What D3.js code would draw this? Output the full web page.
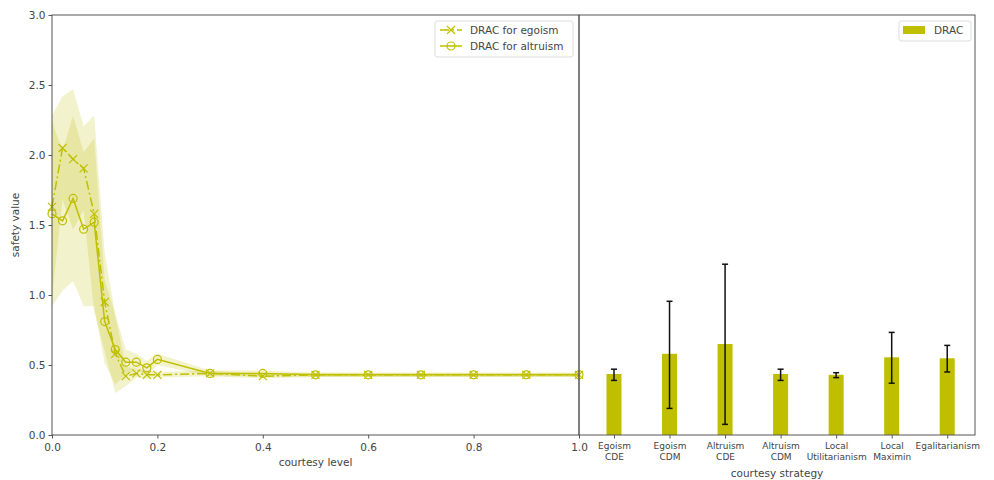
<!DOCTYPE html>
<html>
<head>
<meta charset="utf-8">
<script src="https://cdn.jsdelivr.net/npm/d3@7"></script>
<style>
  body { margin: 0; background: #fff; }
  text { font-family: "DejaVu Sans", sans-serif; }
</style>
</head>
<body>
<div id="viz"></div>
<script>
const olive = '#bfbf00';

// left panel: courtesy level vs safety value
const levels = [0, 0.02, 0.04, 0.06, 0.08, 0.10, 0.12, 0.14, 0.16, 0.18, 0.2, 0.3, 0.4, 0.5, 0.6, 0.7, 0.8, 0.9, 1.0];
const egoMean = [1.63, 2.05, 1.97, 1.905, 1.58, 0.95, 0.58, 0.42, 0.44, 0.43, 0.43, 0.44, 0.42, 0.43, 0.43, 0.43, 0.43, 0.43, 0.43];
const egoStd  = [0.65, 0.37, 0.50, 0.30, 0.70, 0.35, 0.28, 0.07, 0.03, 0.03, 0.02, 0.02, 0.015, 0.015, 0.015, 0.015, 0.015, 0.015, 0.015];
const altMean = [1.58, 1.53, 1.69, 1.47, 1.52, 0.81, 0.61, 0.52, 0.52, 0.48, 0.54, 0.44, 0.44, 0.43, 0.43, 0.43, 0.43, 0.43, 0.43];
const altStd  = [0.66, 0.50, 0.59, 0.55, 0.60, 0.30, 0.25, 0.09, 0.06, 0.05, 0.04, 0.02, 0.02, 0.015, 0.015, 0.015, 0.015, 0.015, 0.015];
const levelTicks = [0, 0.2, 0.4, 0.6, 0.8, 1.0];
const valueTicks = [0, 0.5, 1.0, 1.5, 2.0, 2.5, 3.0];

// right panel: strategies
const strategies = [['Egoism', 'CDE'], ['Egoism', 'CDM'], ['Altruism', 'CDE'], ['Altruism', 'CDM'],
                    ['Local', 'Utilitarianism'], ['Local', 'Maximin'], ['Egalitarianism']];
const dracMean = [0.436, 0.58, 0.65, 0.436, 0.43, 0.555, 0.548];
const dracLow  = [0.39, 0.19, 0.076, 0.39, 0.41, 0.37, 0.45];
const dracHigh = [0.47, 0.955, 1.22, 0.47, 0.445, 0.733, 0.64];

const W = 994, H = 480;
const yTop = 15, yBot = 435;
const leftL = 52, leftR = 579, rightR = 975;

const svg = d3.select('#viz').append('svg')
    .attr('width', W).attr('height', H);

const x = d3.scaleLinear().domain([0, 1]).range([leftL, leftR]);
const y = d3.scaleLinear().domain([0, 3]).range([yBot, yTop]);
const xb = d3.scaleLinear().domain([-0.63, 6.5]).range([leftR, rightR]);

// bands
const band = (mean, std) => d3.area()
    .x((d, i) => x(levels[i]))
    .y0((d, i) => y(mean[i] - std[i]))
    .y1((d, i) => y(mean[i] + std[i]));

svg.append('path')
    .attr('d', band(egoMean, egoStd)(levels))
    .attr('fill', olive).attr('fill-opacity', 0.2);
svg.append('path')
    .attr('d', band(altMean, altStd)(levels))
    .attr('fill', olive).attr('fill-opacity', 0.2);

const line = mean => d3.line().x((d, i) => x(levels[i])).y((d, i) => y(mean[i]));

svg.append('path')
    .attr('d', line(egoMean)(levels))
    .attr('fill', 'none').attr('stroke', olive).attr('stroke-width', 1.5)
    .attr('stroke-dasharray', '9,3,2,3');
svg.append('path')
    .attr('d', line(altMean)(levels))
    .attr('fill', 'none').attr('stroke', olive).attr('stroke-width', 1.5);

const xMark = (g, cx, cy) => {
  g.append('path')
    .attr('d', `M${cx - 4},${cy - 4}L${cx + 4},${cy + 4}M${cx - 4},${cy + 4}L${cx + 4},${cy - 4}`)
    .attr('stroke', olive).attr('stroke-width', 1.2).attr('fill', 'none');
};
const oMark = (g, cx, cy) => {
  g.append('circle').attr('cx', cx).attr('cy', cy).attr('r', 4)
    .attr('stroke', olive).attr('stroke-width', 1.2).attr('fill', 'none');
};

const marks = svg.append('g');
levels.forEach((l, i) => xMark(marks, x(l), y(egoMean[i])));
levels.forEach((l, i) => oMark(marks, x(l), y(altMean[i])));

// bars
svg.append('g').selectAll('rect').data(dracMean).join('rect')
    .attr('x', (d, i) => xb(i) - 7.5)
    .attr('width', 15)
    .attr('y', d => y(d))
    .attr('height', d => y(0) - y(d))
    .attr('fill', olive);

const err = svg.append('g').attr('stroke', '#111').attr('stroke-width', 1.5);
dracMean.forEach((d, i) => {
  const cx = xb(i);
  err.append('line').attr('x1', cx).attr('x2', cx).attr('y1', y(dracLow[i])).attr('y2', y(dracHigh[i]));
  err.append('line').attr('x1', cx - 3).attr('x2', cx + 3).attr('y1', y(dracLow[i])).attr('y2', y(dracLow[i]));
  err.append('line').attr('x1', cx - 3).attr('x2', cx + 3).attr('y1', y(dracHigh[i])).attr('y2', y(dracHigh[i]));
});

// axes
const axisColor = '#555';
const textColor = '#444';
const gx = svg.append('g').attr('transform', `translate(0,${yBot})`)
    .call(d3.axisBottom(x).tickValues(levelTicks).tickFormat(d3.format('.1f')).tickSizeOuter(0).tickSize(3.5));
const gy = svg.append('g').attr('transform', `translate(${leftL},0)`)
    .call(d3.axisLeft(y).tickValues(valueTicks).tickFormat(d3.format('.1f')).tickSizeOuter(0).tickSize(3.5));
const gxb = svg.append('g').attr('transform', `translate(0,${yBot})`)
    .call(d3.axisBottom(xb).tickValues(d3.range(strategies.length)).tickFormat('').tickSizeOuter(0).tickSize(3.5));

[gx, gy, gxb].forEach(g => {
  g.select('.domain').remove();
  g.selectAll('line').attr('stroke', axisColor);
  g.selectAll('text').attr('fill', textColor).attr('font-size', 10.5);
});
gx.selectAll('text').attr('dy', '0.9em');

gxb.selectAll('.tick').each(function (d) {
  const t = d3.select(this).append('text')
      .attr('text-anchor', 'middle').attr('fill', textColor)
      .attr('font-size', 9).attr('font-family', '"DejaVu Sans Condensed", "DejaVu Sans", sans-serif')
      .attr('y', 14);
  strategies[d].forEach((s, k) => {
    t.append('tspan').attr('x', 0).attr('dy', k === 0 ? 0 : 11).text(s);
  });
});

// frames
svg.append('rect').attr('x', leftL).attr('y', yTop).attr('width', leftR - leftL).attr('height', yBot - yTop)
    .attr('fill', 'none').attr('stroke', axisColor).attr('stroke-width', 1);
svg.append('rect').attr('x', leftR).attr('y', yTop).attr('width', rightR - leftR).attr('height', yBot - yTop)
    .attr('fill', 'none').attr('stroke', axisColor).attr('stroke-width', 1);

// axis labels
svg.append('text').attr('x', (leftL + leftR) / 2).attr('y', 466)
    .attr('text-anchor', 'middle').attr('font-size', 10.5).attr('fill', textColor).text('courtesy level');
svg.append('text').attr('x', (leftR + rightR) / 2).attr('y', 477)
    .attr('text-anchor', 'middle').attr('font-size', 10.5).attr('fill', textColor).text('courtesy strategy');
svg.append('text').attr('transform', `translate(19,${(yTop + yBot) / 2}) rotate(-90)`)
    .attr('text-anchor', 'middle').attr('font-size', 10.5).attr('fill', textColor).text('safety value');

// left legend
const lg = svg.append('g');
lg.append('rect').attr('x', 435).attr('y', 21).attr('width', 138).attr('height', 36).attr('rx', 2)
    .attr('fill', '#fff').attr('fill-opacity', 0.8).attr('stroke', '#ddd');
lg.append('line').attr('x1', 440).attr('x2', 462).attr('y1', 30).attr('y2', 30)
    .attr('stroke', olive).attr('stroke-width', 1.5).attr('stroke-dasharray', '9,3,2,3');
xMark(lg, 451, 30);
lg.append('line').attr('x1', 440).attr('x2', 462).attr('y1', 46).attr('y2', 46)
    .attr('stroke', olive).attr('stroke-width', 1.5);
oMark(lg, 451, 46);
lg.append('text').attr('x', 470).attr('y', 34).attr('font-size', 10.5).attr('fill', textColor).text('DRAC for egoism');
lg.append('text').attr('x', 470).attr('y', 50).attr('font-size', 10.5).attr('fill', textColor).text('DRAC for altruism');

// right legend
const rg = svg.append('g');
rg.append('rect').attr('x', 899).attr('y', 21).attr('width', 72).attr('height', 20).attr('rx', 2)
    .attr('fill', '#fff').attr('fill-opacity', 0.8).attr('stroke', '#ddd');
rg.append('rect').attr('x', 903).attr('y', 26).attr('width', 22).attr('height', 8).attr('fill', olive);
rg.append('text').attr('x', 934).attr('y', 34).attr('font-size', 10.5).attr('fill', textColor).text('DRAC');
</script>
</body>
</html>
